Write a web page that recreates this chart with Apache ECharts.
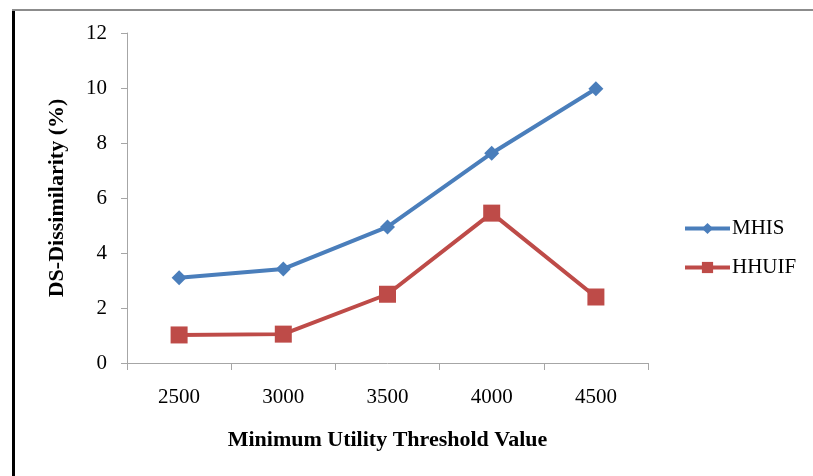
<!DOCTYPE html>
<html>
<head>
<meta charset="utf-8">
<script src="https://cdn.jsdelivr.net/npm/echarts@6/dist/echarts.min.js"></script>
<style>html,body{margin:0;padding:0;background:#fff;}#c{width:813px;height:476px;}</style>
</head>
<body>
<div id="c"></div>
<script>
var categories = ['2500', '3000', '3500', '4000', '4500'];
var mhis = [3.1, 3.42, 4.95, 7.63, 9.97];
var hhuif = [1.02, 1.05, 2.5, 5.45, 2.4];
var seriesNames = ['MHIS', 'HHUIF'];

var font = '"Liberation Serif", "Times New Roman", serif';
var chart = echarts.init(document.getElementById('c'));
chart.setOption({
  animation: false,
  backgroundColor: '#fff',
  textStyle: { fontFamily: font },
  graphic: [
    { type: 'rect', shape: { x: 12, y: 9, width: 3, height: 470 }, style: { fill: '#000' } },
    { type: 'rect', shape: { x: 12, y: 9, width: 805, height: 2 }, style: { fill: '#8c8c8c' } }
  ],
  grid: { left: 127, right: 165, top: 33, bottom: 113, containLabel: false },
  legend: {
    orient: 'vertical',
    left: 683,
    top: 218,
    padding: 0,
    itemGap: 18,
    itemWidth: 45,
    itemHeight: 14,
    lineStyle: { width: 4 },
    textStyle: { fontFamily: font, fontSize: 21, color: '#000', padding: [0, 0, 0, -3] },
    data: seriesNames
  },
  xAxis: {
    type: 'category',
    data: categories,
    boundaryGap: true,
    name: 'Minimum Utility Threshold Value',
    nameLocation: 'middle',
    nameGap: 66,
    nameTextStyle: { fontFamily: font, fontSize: 22, fontWeight: 'bold', color: '#000' },
    axisLine: { lineStyle: { color: '#a6a6a6', width: 1 } },
    axisTick: { show: true, length: 7, lineStyle: { color: '#a6a6a6' } },
    axisLabel: { fontFamily: font, fontSize: 21, color: '#000', margin: 24 },
    splitLine: { show: false }
  },
  yAxis: {
    type: 'value',
    min: 0, max: 12, interval: 2,
    name: 'DS-Dissimilarity (%)',
    nameLocation: 'middle',
    nameGap: 59,
    nameTextStyle: { fontFamily: font, fontSize: 22, fontWeight: 'bold', color: '#000' },
    axisLine: { show: true, lineStyle: { color: '#a6a6a6', width: 1 } },
    axisTick: { show: true, length: 6, lineStyle: { color: '#a6a6a6' } },
    axisLabel: { fontFamily: font, fontSize: 21, color: '#000', margin: 20 },
    splitLine: { show: false }
  },
  series: [
    {
      name: seriesNames[0], type: 'line', data: mhis,
      symbol: 'diamond', symbolSize: [15, 15],
      lineStyle: { color: '#4a7ebb', width: 4 },
      itemStyle: { color: '#4a7ebb' }
    },
    {
      name: seriesNames[1], type: 'line', data: hhuif,
      symbol: 'rect', symbolSize: 17,
      lineStyle: { color: '#be4b48', width: 4 },
      itemStyle: { color: '#be4b48' }
    }
  ]
});
</script>
</body>
</html>
